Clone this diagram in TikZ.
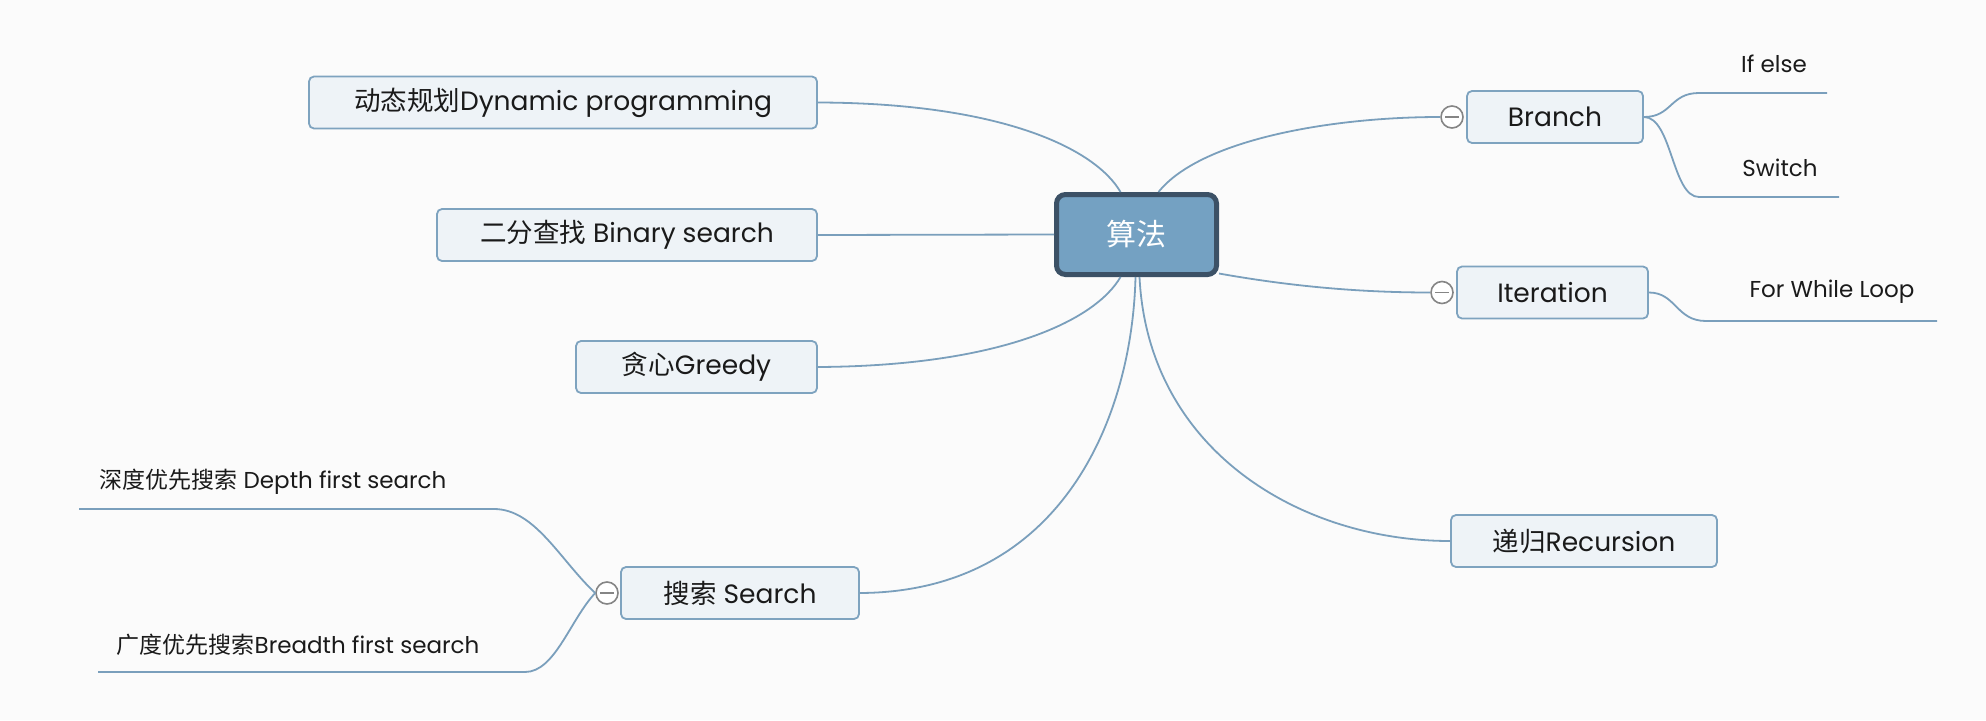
\documentclass[tikz,border=0pt]{standalone}
\usepackage{fontspec}
\setmainfont{Poppins}
\newfontfamily\cjk{Noto Sans CJK SC}
\definecolor{paper}{HTML}{FBFBFB}
\definecolor{linkblue}{HTML}{7A9FBC}
\definecolor{boxline}{HTML}{7EA3BF}
\definecolor{boxfill}{HTML}{EEF3F7}
\definecolor{rootfill}{HTML}{74A1C2}
\definecolor{rootline}{HTML}{3C5166}
\definecolor{foldgray}{HTML}{858585}
\definecolor{ink}{HTML}{1A1A1A}

\begin{document}
\begin{tikzpicture}[x=1pt,y=-1pt,
    topic/.style={draw=boxline, fill=boxfill, rounded corners=5pt, line width=1.8pt,
        minimum height=52pt, inner sep=0pt, text=ink, font=\fontsize{26.5}{30}\selectfont},
    root/.style={draw=rootline, fill=rootfill, rounded corners=9pt, line width=5pt,
        minimum width=160pt, minimum height=80pt, text=white, font=\fontsize{30}{34}\selectfont},
    leaf/.style={inner sep=0pt, text=ink, font=\fontsize{23}{27}\selectfont},
    fold/.style={draw=foldgray, fill=white, circle, line width=1.6pt, minimum size=22pt, inner sep=0pt},
    link/.style={draw=linkblue, line width=1.8pt}]
    \fill[paper] (0,0) rectangle (1986,720);
    \useasboundingbox (0,0) rectangle (1986,720);
    \draw
    (1136.5,234.5)node(algo)[root]{{\cjk 算法}}
    (563,102.5)node(dp)[topic, minimum width=508pt]{{\cjk 动态规划}Dynamic programming}
    (627,235)node(bs)[topic, minimum width=380pt]{{\cjk 二分查找} Binary search}
    (696.5,367)node(greedy)[topic, minimum width=241pt]{{\cjk 贪心}Greedy}
    (740,593)node(search)[topic, minimum width=238pt]{{\cjk 搜索} Search}
    (1555,117)node(branch)[topic, minimum width=176pt]{Branch}
    (1552.5,292.5)node(iter)[topic, minimum width=191pt]{Iteration}
    (1584,541)node(recur)[topic, minimum width=266pt]{{\cjk 递归}Recursion};
    %
    \draw
    (1452,117)node(branchfold)[fold]{}
    (1442,292.5)node(iterfold)[fold]{}
    (607,593)node(searchfold)[fold]{};
    \foreach \f in {branchfold, iterfold, searchfold}
        \draw [foldgray, line width=1.6pt]([xshift=5pt]\f.west)--([xshift=-5pt]\f.east);
    %
    \draw
    (1774,64)node(ifelse)[leaf]{If else}
    (1780,168)node(switch)[leaf]{Switch}
    (1832,292)node(loop)[leaf]{For While Loop}
    (273,482)node(dfs)[leaf]{{\cjk 深度优先搜索} Depth first search}
    (298,645)node(bfs)[leaf]{{\cjk 广度优先搜索}Breadth first search};
    \coordinate (ifelseA) at (1699,93);
    \coordinate (ifelseB) at (1827,93);
    \coordinate (switchA) at (1699,197);
    \coordinate (switchB) at (1839,197);
    \coordinate (loopA) at (1706,321);
    \coordinate (loopB) at (1937,321);
    \coordinate (dfsA) at (494,509);
    \coordinate (dfsB) at (79,509);
    \coordinate (bfsA) at (525,672);
    \coordinate (bfsB) at (98,672);
    %
    \draw [link](dp.east) .. controls (1000,103) and (1095,148) .. ([xshift=-16pt]algo.north);
    \draw [link](bs.east)--(algo.west);
    \draw [link](greedy.east) .. controls (1000,366) and (1095,321) .. ([xshift=-16pt]algo.south);
    \draw [link](search.east) .. controls (1060,592) and (1132,420) .. ([xshift=-1pt]algo.south);
    \draw [link]([xshift=3pt]algo.south) .. controls (1148,450) and (1300,541) .. (recur.west);
    \draw [link]([xshift=22pt]algo.north) .. controls (1200,140) and (1330,117) .. (branchfold.west);
    \draw [link]([yshift=3.5pt]algo.south east) .. controls (1300,288) and (1370,292.5) .. (iterfold.west);
    %
    \draw [link](branch.east) .. controls (1672,117) and (1670,93) .. (ifelseA)--(ifelseB);
    \draw [link](branch.east) .. controls (1672,117) and (1672,197) .. (switchA)--(switchB);
    \draw [link](iter.east) .. controls (1676,292.5) and (1676,321) .. (loopA)--(loopB);
    \draw [link](searchfold.west) .. controls (560,560) and (535,509) .. (dfsA)--(dfsB);
    \draw [link](searchfold.west) .. controls (570,620) and (555,672) .. (bfsA)--(bfsB);
\end{tikzpicture}
\end{document}
